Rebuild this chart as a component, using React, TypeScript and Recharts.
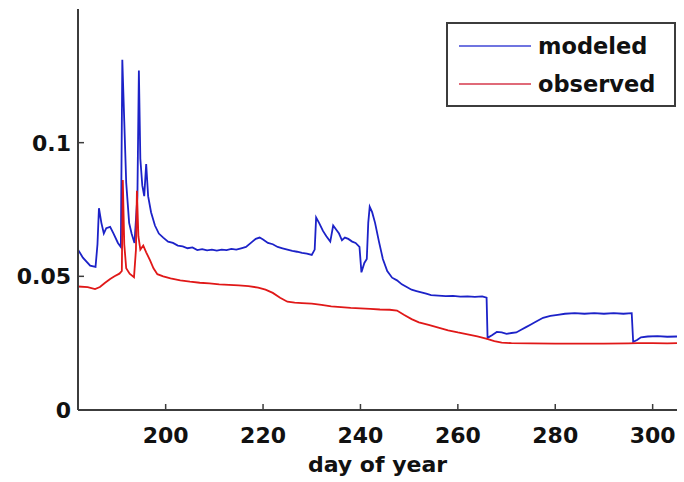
import { LineChart, Line, XAxis, YAxis, Legend } from 'recharts';

// day of year
const modeledDays = [
  182.0, 183.0, 184.5, 185.6, 186.0, 186.3, 186.8, 187.3, 187.8, 188.6, 189.3, 190.2, 190.8,
  191.1, 191.5, 191.9, 192.5, 193.0, 193.6, 194.2, 194.5, 194.8, 195.2, 195.6, 196.0, 196.4,
  197.0, 197.8, 198.6, 199.5, 200.5, 201.5, 202.5, 203.5, 204.5, 205.5, 206.5, 207.5, 208.5,
  209.5, 210.5, 211.5, 212.5, 213.5, 214.5, 215.5, 216.5, 217.5, 218.5, 219.3, 220.0, 221.0,
  222.0, 223.0, 224.0, 225.0, 226.0, 227.0, 228.0, 229.0, 230.0, 230.6, 230.9, 231.5, 232.3,
  233.0, 233.8, 234.4, 235.0, 235.6, 236.2, 236.8, 237.5, 238.3, 239.0, 239.8, 240.2, 240.8,
  241.3, 241.6, 241.9, 242.4, 243.0, 243.8, 244.6, 245.5, 246.5, 247.5, 248.5, 249.5, 250.5,
  251.5, 252.5, 253.5, 254.5, 256.0, 257.5, 259.0, 260.5, 262.0, 263.5, 265.0, 265.9, 266.1,
  267.0, 268.0, 269.0, 270.0, 271.0, 272.0, 273.0, 274.0, 275.0, 276.0, 277.5, 279.0, 280.5,
  282.0, 284.0, 286.0, 288.0, 290.0, 292.0, 294.0, 295.7, 296.0, 296.8, 297.6, 299.0, 301.0,
  303.0, 305.0,
];
const modeledValues = [
  0.060, 0.057, 0.054, 0.0535, 0.062, 0.0755, 0.070, 0.066, 0.068, 0.0685, 0.066, 0.0625, 0.061,
  0.131, 0.108, 0.085, 0.070, 0.066, 0.0625, 0.080, 0.127, 0.094, 0.084, 0.080, 0.092, 0.080,
  0.074, 0.069, 0.066, 0.0645, 0.063, 0.0625, 0.0615, 0.0612, 0.0605, 0.0608, 0.0598, 0.0602, 0.0597,
  0.0600, 0.0596, 0.0600, 0.0598, 0.0603, 0.0600, 0.0605, 0.0610, 0.0625, 0.0640, 0.0645, 0.0638, 0.0625,
  0.0620, 0.0610, 0.0605, 0.0600, 0.0595, 0.0592, 0.0588, 0.0585, 0.0580, 0.0600, 0.0720, 0.0700, 0.0670,
  0.0650, 0.0630, 0.0690, 0.0675, 0.0660, 0.0635, 0.0645, 0.0640, 0.0630, 0.0625, 0.0610, 0.0515, 0.0550,
  0.0565, 0.0700, 0.0760, 0.0740, 0.0700, 0.0630, 0.0565, 0.0520, 0.0495, 0.0485, 0.0470, 0.0460, 0.0450,
  0.0445, 0.0440, 0.0435, 0.0430, 0.0428, 0.0426, 0.0427, 0.0424, 0.0425, 0.0423, 0.0425, 0.0420, 0.0270,
  0.0280, 0.0292, 0.0290, 0.0285, 0.0288, 0.0290, 0.0300, 0.0310, 0.0320, 0.0330, 0.0345, 0.0352, 0.0356,
  0.0360, 0.0362, 0.0360, 0.0362, 0.0360, 0.0362, 0.0360, 0.0362, 0.0255, 0.0262, 0.0272, 0.0275, 0.0276,
  0.0274, 0.0275,
];

const observedDays = [
  182.0, 184.0, 185.5, 186.5, 187.5, 188.6, 189.5, 190.5, 191.0, 191.2, 191.5, 191.9, 192.6,
  193.5, 193.9, 194.1, 194.4, 194.8, 195.4, 196.0, 196.8, 197.5, 198.3, 199.5, 201.0, 203.0,
  205.0, 207.0, 209.0, 211.0, 213.0, 215.0, 217.0, 219.0, 220.5, 222.0, 223.5, 225.0, 226.5,
  228.0, 230.0, 232.0, 234.0, 236.0, 238.0, 240.0, 242.0, 244.0, 246.0, 247.5, 249.0, 250.5,
  252.0, 254.0, 256.0, 258.0, 260.0, 262.0, 264.0, 266.0, 267.5, 269.0, 271.0, 275.0, 280.0,
  285.0, 290.0, 295.0, 297.0, 300.0, 303.0, 305.0,
];
const observedValues = [
  0.0462, 0.0460, 0.0452, 0.0460, 0.0475, 0.0490, 0.0500, 0.0510, 0.0520, 0.0860, 0.0620, 0.0530, 0.0510,
  0.0497, 0.0600, 0.0820, 0.0650, 0.0600, 0.0615, 0.0590, 0.0560, 0.0530, 0.0508, 0.0500, 0.0492, 0.0485,
  0.0480, 0.0476, 0.0474, 0.0470, 0.0468, 0.0466, 0.0463, 0.0458, 0.0450, 0.0438, 0.0420, 0.0405, 0.0402,
  0.0400, 0.0398, 0.0393, 0.0388, 0.0385, 0.0382, 0.0380, 0.0378, 0.0376, 0.0375, 0.0372, 0.0355, 0.0340,
  0.0328, 0.0318, 0.0308, 0.0298, 0.0290, 0.0283, 0.0275, 0.0266, 0.0258, 0.0252, 0.0250, 0.0249, 0.0248,
  0.0248, 0.0248, 0.0249, 0.0250, 0.0250, 0.0249, 0.0250,
];

const xTicks = [200, 220, 240, 260, 280, 300];
const yTicks = [0, 0.05, 0.1];

const modeled = modeledDays.map((day, i) => ({ day, value: modeledValues[i] }));
const observed = observedDays.map((day, i) => ({ day, value: observedValues[i] }));

const FONT = '"DejaVu Sans", sans-serif';
const AXIS = '#3c3c3c';
const BLUE = '#1c22c8';
const RED = '#e01818';
const TICK_LEN = 6;

const tickStyle = { fill: '#111', fontSize: 22, fontWeight: 700, fontFamily: FONT };

// matlab style: tick marks point into the plot box
function BottomTick({ x, y, payload }: any) {
  return (
    <g>
      <line x1={x} x2={x} y1={y} y2={y - TICK_LEN} stroke={AXIS} strokeWidth={1.5} />
      <text x={x} y={y + 17} dy="0.71em" textAnchor="middle" {...tickStyle}>
        {payload.value}
      </text>
    </g>
  );
}

function LeftTick({ x, y, payload }: any) {
  return (
    <g>
      {payload.value !== 0 && <line x1={x} x2={x + TICK_LEN} y1={y} y2={y} stroke={AXIS} strokeWidth={1.5} />}
      <text x={x - 7} y={y} dy="0.36em" textAnchor="end" {...tickStyle}>
        {payload.value}
      </text>
    </g>
  );
}

function TopTick({ x, y }: any) {
  return <line x1={x} x2={x} y1={y} y2={y + TICK_LEN} stroke={AXIS} strokeWidth={1.5} />;
}

function RightTick({ x, y, payload }: any) {
  if (payload.value === 0) return <g />;
  return <line x1={x} x2={x - TICK_LEN} y1={y} y2={y} stroke={AXIS} strokeWidth={1.5} />;
}

function LegendBox() {
  const rows = [
    { label: 'modeled', color: '#6f74e0' },
    { label: 'observed', color: '#e06a78' },
  ];
  return (
    <div
      style={{
        boxSizing: 'border-box',
        width: 230,
        height: 85,
        border: `2px solid ${AXIS}`,
        background: '#fff',
        paddingTop: 3,
      }}
    >
      {rows.map(r => (
        <div key={r.label} style={{ display: 'flex', alignItems: 'center', height: 38 }}>
          <div style={{ width: 72, height: 2, background: r.color, marginLeft: 11, marginRight: 7 }} />
          <span style={{ fontFamily: FONT, fontWeight: 700, fontSize: 22.5, color: '#111' }}>{r.label}</span>
        </div>
      ))}
    </div>
  );
}

export default function App() {
  return (
    <div style={{ position: 'absolute', left: 0, top: 0, background: '#fff' }}>
      <LineChart width={684} height={482} margin={{ top: 9, right: 7, left: 8, bottom: 0 }}>
        <XAxis
          dataKey="day"
          type="number"
          domain={[182, 305]}
          ticks={xTicks}
          allowDataOverflow
          height={72}
          tick={<BottomTick />}
          tickSize={0}
          tickMargin={0}
          tickLine={false}
          axisLine={{ stroke: AXIS, strokeWidth: 2 }}
          label={{ value: 'day of year', position: 'insideBottom', offset: 10, style: { ...tickStyle, textAnchor: 'middle' } }}
        />
        <XAxis
          xAxisId="top"
          orientation="top"
          type="number"
          domain={[182, 305]}
          ticks={xTicks}
          allowDataOverflow
          height={0}
          tick={<TopTick />}
          tickSize={0}
          tickMargin={0}
          tickLine={false}
          axisLine={{ stroke: AXIS, strokeWidth: 2 }}
        />
        <YAxis
          type="number"
          domain={[0, 0.15]}
          ticks={yTicks}
          allowDataOverflow
          width={70}
          tick={<LeftTick />}
          tickSize={0}
          tickMargin={0}
          tickLine={false}
          axisLine={{ stroke: AXIS, strokeWidth: 2 }}
        />
        <YAxis
          yAxisId="right"
          orientation="right"
          type="number"
          domain={[0, 0.15]}
          ticks={yTicks}
          allowDataOverflow
          width={0}
          tick={<RightTick />}
          tickSize={0}
          tickMargin={0}
          tickLine={false}
          axisLine={{ stroke: AXIS, strokeWidth: 2 }}
        />
        <Line
          data={modeled}
          dataKey="value"
          name="modeled"
          type="linear"
          stroke={BLUE}
          strokeWidth={1.8}
          dot={false}
          isAnimationActive={false}
        />
        <Line
          data={observed}
          dataKey="value"
          name="observed"
          type="linear"
          stroke={RED}
          strokeWidth={1.8}
          dot={false}
          isAnimationActive={false}
        />
        <Legend
          layout="vertical"
          align="center"
          verticalAlign="middle"
          content={() => <LegendBox />}
          wrapperStyle={{ left: 446, top: 22, width: 230, height: 85 }}
        />
      </LineChart>
    </div>
  );
}
